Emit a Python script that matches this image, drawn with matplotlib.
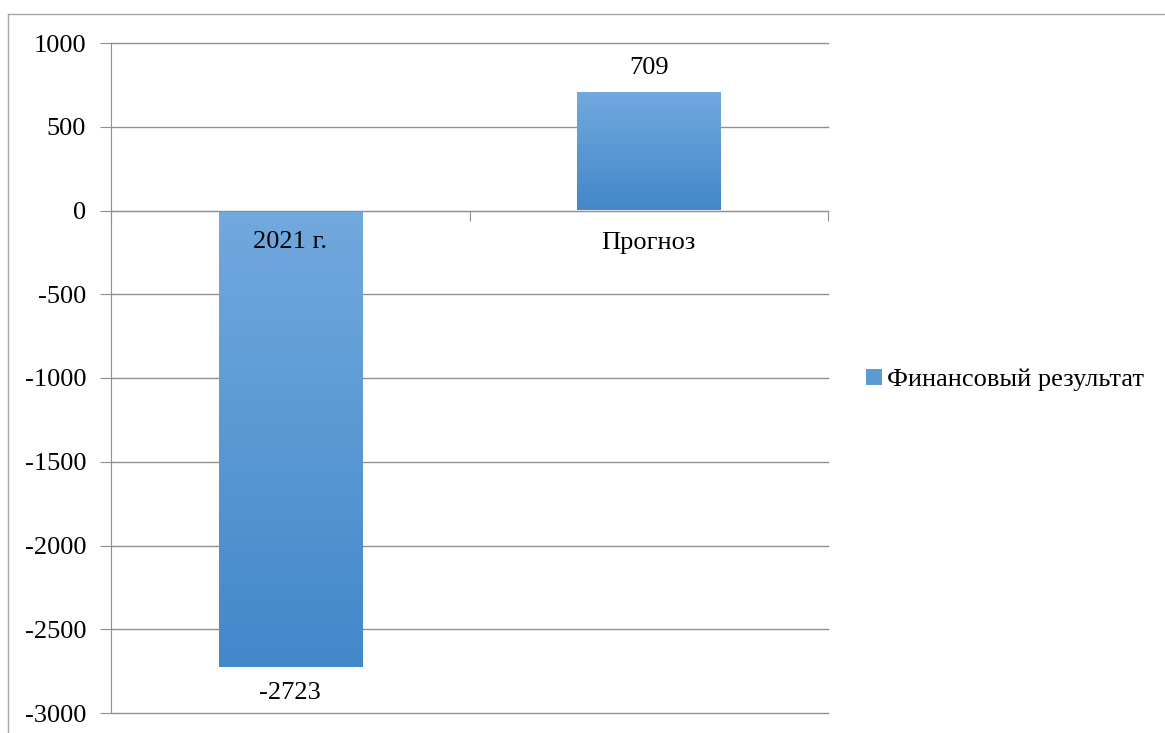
import matplotlib
matplotlib.use('Agg')
import matplotlib.pyplot as plt
import matplotlib.ticker as ticker
from matplotlib.colors import LinearSegmentedColormap
from matplotlib.lines import Line2D
import numpy as np

# Data
categories = ['2021 г.', 'Прогноз']
values = [-2723, 709]
series_name = 'Финансовый результат'
y_ticks = [1000, 500, 0, -500, -1000, -1500, -2000, -2500, -3000]

plt.rcParams['font.family'] = ['Liberation Serif', 'DejaVu Serif']
plt.rcParams['axes.unicode_minus'] = False
font_size = 19
grid_colour = '#8f8f8f'
light_blue = '#72a9de'
dark_blue = '#4288ca'

fig = plt.figure(figsize=(11.65, 7.33), dpi=100, facecolor='white')
ax = fig.add_axes([111 / 1165, 1 - 713 / 733, (828 - 111) / 1165, (713 - 43) / 733])

x = np.arange(len(categories))
bars = ax.bar(x, values, width=0.40, color='#5b9bd5', zorder=2)

# Gradient fill, lighter on top, darker at the bottom
cmap = LinearSegmentedColormap.from_list('bar_grad', [dark_blue, light_blue])
grad = np.linspace(0, 1, 256).reshape(-1, 1)
for bar in bars:
    x0, y0 = bar.get_x(), bar.get_y()
    w, h = bar.get_width(), bar.get_height()
    bottom, top = min(y0, y0 + h), max(y0, y0 + h)
    im = ax.imshow(grad, cmap=cmap, origin='lower', aspect='auto',
                   extent=[x0, x0 + w, bottom, top], zorder=3)
    im.set_clip_path(bar)
    bar.set_alpha(0)

ax.set_xlim(-0.5, len(categories) - 0.5)
ax.set_ylim(min(y_ticks), max(y_ticks))
ax.set_yticks(y_ticks)
ax.yaxis.set_major_formatter(ticker.StrMethodFormatter('{x:.0f}'))
ax.set_xticks(np.arange(len(categories) + 1) - 0.5)
ax.set_xticklabels([])

ax.grid(axis='y', color=grid_colour, linewidth=1.0, zorder=0)
ax.set_axisbelow(True)
for gl in ax.get_ygridlines():
    gl.set_clip_on(False)

for side in ['top', 'right']:
    ax.spines[side].set_visible(False)
ax.spines['left'].set_color(grid_colour)
ax.spines['bottom'].set_color(grid_colour)
ax.spines['bottom'].set_position(('data', 0))
ax.spines['bottom'].set_zorder(4)

ax.tick_params(axis='y', length=8, color=grid_colour, labelsize=font_size, pad=10)
ax.tick_params(axis='x', length=7, color=grid_colour, direction='out')

# Category labels below the zero line
for xi, name in zip(x, categories):
    ax.annotate(name, (xi, 0), xytext=(0, -32), textcoords='offset pixels',
                ha='center', va='center', fontsize=font_size, zorder=5)

# Data labels
for xi, v in zip(x, values):
    off = 24 if v >= 0 else -26
    ax.annotate(str(v), (xi, v), xytext=(0, off), textcoords='offset pixels',
                ha='center', va='center', fontsize=font_size, zorder=5)

# Legend
handle = plt.Rectangle((0, 0), 1, 1, facecolor='#5b9bd5', edgecolor='none')
fig.legend([handle], [series_name], loc='center left',
           bbox_to_anchor=(866 / 1165, 1 - 380 / 733), frameon=False,
           fontsize=font_size, handlelength=0.6, handleheight=0.6,
           handletextpad=0.2, borderpad=0, borderaxespad=0)

# Outer chart frame
frame_colour = '#a6a6a6'
fig.add_artist(Line2D([8 / 1165, 8 / 1165], [0, 1 - 14 / 733], color=frame_colour, linewidth=1.0))
fig.add_artist(Line2D([8 / 1165, 1], [1 - 14 / 733, 1 - 14 / 733], color=frame_colour, linewidth=1.0))

fig.savefig('out.png', dpi=100, facecolor='white')
